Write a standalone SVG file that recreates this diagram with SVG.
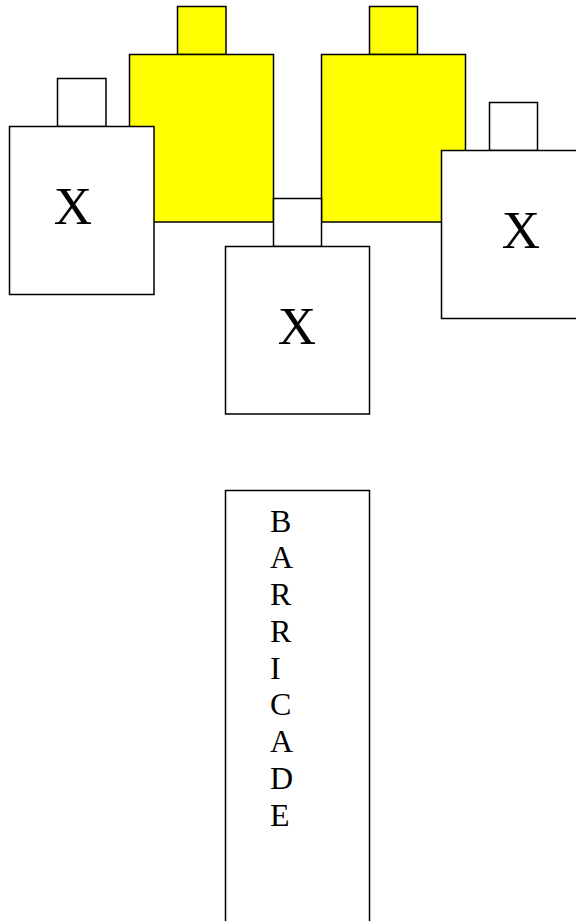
<svg xmlns="http://www.w3.org/2000/svg" width="576" height="921" viewBox="0 0 576 921">
<style>
rect{stroke:#000;stroke-width:1.5}
.y{fill:#ffff00}
.w{fill:#fff}
.t{font-family:"Liberation Serif","Times New Roman",serif;fill:#000}
.x{font-size:53px;text-anchor:middle}
.b{font-size:32px}
</style>
<rect width="576" height="921" fill="#fff" style="stroke:none"/>
<g id="yellow-left">
<rect class="y" x="177.5" y="6.5" width="48.5" height="48"/>
<rect class="y" x="129.5" y="54.5" width="144" height="167.5"/>
</g>
<g id="yellow-right">
<rect class="y" x="369.5" y="6.5" width="48" height="48"/>
<rect class="y" x="321.5" y="54.5" width="144" height="167.5"/>
</g>
<g id="x-left">
<rect class="w" x="57.5" y="78.5" width="48.5" height="48"/>
<rect class="w" x="9.5" y="126.5" width="144.5" height="168"/>
<text class="t x" x="73" y="224">X</text>
</g>
<g id="x-center">
<rect class="w" x="273.5" y="198.5" width="48" height="48"/>
<rect class="w" x="225.5" y="246.5" width="144" height="167.5"/>
<text class="t x" x="297" y="344">X</text>
</g>
<g id="x-right">
<rect class="w" x="489.5" y="102.5" width="48" height="48"/>
<rect class="w" x="441.5" y="150.5" width="150" height="168"/>
<text class="t x" x="521" y="248">X</text>
</g>
<g id="barricade">
<rect class="w" x="225.5" y="490.5" width="144" height="450"/>
<text class="t b" x="270" y="531.7">
<tspan x="270" dy="0">B</tspan>
<tspan x="270" dy="36.75">A</tspan>
<tspan x="270" dy="36.75">R</tspan>
<tspan x="270" dy="36.75">R</tspan>
<tspan x="270" dy="36.75">I</tspan>
<tspan x="270" dy="36.75">C</tspan>
<tspan x="270" dy="36.75">A</tspan>
<tspan x="270" dy="36.75">D</tspan>
<tspan x="270" dy="36.75">E</tspan>
</text>
</g>
<g id="connectors"/>
</svg>
